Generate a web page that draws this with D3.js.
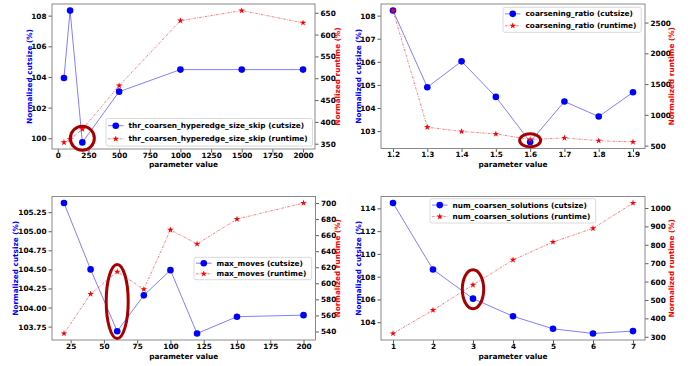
<!DOCTYPE html>
<html><head><meta charset="utf-8">
<script src="https://cdn.jsdelivr.net/npm/d3@7"></script>
<style>
body{margin:0;background:#fff}
text{font-family:"DejaVu Sans",sans-serif;font-weight:bold}
</style>
</head><body>
<svg id="c" width="699" height="366"></svg>
<script>
// ---- data ----
const p1Names=["thr_coarsen_hyperedge_size_skip (cutsize)","thr_coarsen_hyperedge_size_skip (runtime)"];
const p1Params=[50,100,200,500,1000,1500,2000];
const p1Cut=[103.93,108.33,99.73,103.04,104.48,104.48,104.48];
const p1Run=[353,360,383,483,632,655,627];
const p1XTicks=[0,250,500,750,1000,1250,1500,1750,2000];
const p1LTicks=[100,102,104,106,108];
const p1RTicks=[350,400,450,500,550,600,650];

const p2Names=["coarsening_ratio (cutsize)","coarsening_ratio (runtime)"];
const p2Params=[1.2,1.3,1.4,1.5,1.6,1.7,1.8,1.9];
const p2Cut=[108.22,104.9,106.02,104.48,102.53,104.28,103.63,104.68];
const p2Run=[2695,800,730,690,600,625,580,560];
const p2XTicks=[1.2,1.3,1.4,1.5,1.6,1.7,1.8,1.9];
const p2LTicks=[103,104,105,106,107,108];
const p2RTicks=[500,1000,1500,2000,2500];

const p3Names=["max_moves (cutsize)","max_moves (runtime)"];
const p3Params=[20,40,60,80,100,120,150,200];
const p3Cut=[105.37,104.50,103.69,104.16,104.49,103.66,103.88,103.90];
const p3Run=[537.5,586.7,614.4,592.5,666.5,649,680,700];
const p3XTicks=[25,50,75,100,125,150,175,200];
const p3LTicks=[103.75,104.00,104.25,104.50,104.75,105.00,105.25];
const p3RTicks=[540,560,580,600,620,640,660,680,700];

const p4Names=["num_coarsen_solutions (cutsize)","num_coarsen_solutions (runtime)"];
const p4Params=[1,2,3,4,5,6,7];
const p4Cut=[114.47,108.63,106.07,104.52,103.42,103.01,103.22];
const p4Run=[318,445,582,718,815,889,1027];
const p4XTicks=[1,2,3,4,5,6,7];
const p4LTicks=[104,106,108,110,112,114];
const p4RTicks=[300,400,500,600,700,800,900,1000];

// highlighted settings (x value, cutsize value of ellipse centre)
const hlX=[200,1.6,60,3];
const hlY=[100.0,102.6,104.08,106.9];

// ---- layout ----
const FS=7.3, LFS=7.35;
const svg=d3.select("#c");
const panels=[
 {names:p1Names,xs:p1Params,cut:p1Cut,run:p1Run,xt:p1XTicks,lt:p1LTicks,rt:p1RTicks,fmtX:d3.format("d"),fmtL:d3.format("d"),
  box:[52,4,315,149],llx:29,rlx:337,xly:164.5,leg:[106,118.5,312.5,146],hl:0,ell:[12,12]},
 {names:p2Names,xs:p2Params,cut:p2Cut,run:p2Run,xt:p2XTicks,lt:p2LTicks,rt:p2RTicks,fmtX:d3.format(".1f"),fmtL:d3.format("d"),
  box:[381,4,645,148.5],llx:358.5,rlx:671.5,xly:164.5,leg:[503,7.3,641.3,32.3],hl:1,ell:[10.5,6.5]},
 {names:p3Names,xs:p3Params,cut:p3Cut,run:p3Run,xt:p3XTicks,lt:p3LTicks,rt:p3RTicks,fmtX:d3.format("d"),fmtL:d3.format(".2f"),
  box:[52,196.5,315.5,340],llx:15.5,rlx:337.5,xly:356,leg:[194,257.3,311.7,279.7],hl:2,ell:[11,37]},
 {names:p4Names,xs:p4Params,cut:p4Cut,run:p4Run,xt:p4XTicks,lt:p4LTicks,rt:p4RTicks,fmtX:d3.format("d"),fmtL:d3.format("d"),
  box:[381,196.5,645,340],llx:358.5,rlx:671.5,xly:356,leg:[430,198.7,595.7,223],hl:3,ell:[10.7,19.5]}
];

function padDomain(a){const mn=d3.min(a),mx=d3.max(a),m=(mx-mn)*0.05;return [mn-m,mx+m];}
const star=d3.symbol().type(d3.symbolStar).size(13);

panels.forEach(p=>{
  const [x0,y0,x1,y1]=p.box;
  const x=d3.scaleLinear().domain(padDomain(p.xs)).range([x0,x1]);
  const yl=d3.scaleLinear().domain(padDomain(p.cut)).range([y1,y0]);
  const yr=d3.scaleLinear().domain(padDomain(p.run)).range([y1,y0]);
  const g=svg.append("g");

  // axes
  const ax=g.append("g").attr("transform",`translate(0,${y1})`)
    .call(d3.axisBottom(x).tickValues(p.xt).tickFormat(p.fmtX).tickSize(3.5).tickSizeOuter(0));
  const al=g.append("g").attr("transform",`translate(${x0},0)`)
    .call(d3.axisLeft(yl).tickValues(p.lt).tickFormat(p.fmtL).tickSize(3.5).tickSizeOuter(0));
  const ar=g.append("g").attr("transform",`translate(${x1},0)`)
    .call(d3.axisRight(yr).tickValues(p.rt).tickFormat(d3.format("d")).tickSize(3.5).tickSizeOuter(0));
  [ax,al,ar].forEach(a=>{
    a.select(".domain").remove();
    a.selectAll("line").attr("stroke","#333").attr("stroke-width",0.8);
    a.selectAll("text").attr("font-size",FS).attr("fill","#000").style("font-family","DejaVu Sans").style("font-weight","bold")
      .attr("dy",null).attr("dominant-baseline","central");
  });
  ax.selectAll("text").attr("y",6);
  al.selectAll("text").attr("x",-5.5);
  ar.selectAll("text").attr("x",5.5);
  g.append("rect").attr("x",x0).attr("y",y0).attr("width",x1-x0).attr("height",y1-y0)
    .attr("fill","none").attr("stroke","#8a8a8a").attr("stroke-width",1);

  // labels
  g.append("text").attr("x",(x0+x1)/2).attr("y",p.xly).attr("text-anchor","middle").attr("dominant-baseline","central")
    .attr("font-size",FS+0.1).attr("fill","#000").text("parameter value");
  g.append("text").attr("transform",`translate(${p.llx},${(y0+y1)/2}) rotate(-90)`).attr("text-anchor","middle")
    .attr("dominant-baseline","central").attr("font-size",FS).attr("fill","#0000ff").text("Normalized cutsize (%)");
  g.append("text").attr("transform",`translate(${p.rlx},${(y0+y1)/2}) rotate(-90)`).attr("text-anchor","middle")
    .attr("dominant-baseline","central").attr("font-size",FS).attr("fill","#ff0000").text("Normalized runtime (%)");

  // lines
  const idx=d3.range(p.xs.length);
  g.append("path").attr("d",d3.line().x(i=>x(p.xs[i])).y(i=>yl(p.cut[i]))(idx))
    .attr("fill","none").attr("stroke","#0000ff").attr("stroke-opacity",0.5).attr("stroke-width",1);
  g.selectAll(".cm").data(idx).join("circle").attr("cx",i=>x(p.xs[i])).attr("cy",i=>yl(p.cut[i]))
    .attr("r",3.3).attr("fill","#0000ff");
  g.append("path").attr("d",d3.line().x(i=>x(p.xs[i])).y(i=>yr(p.run[i]))(idx))
    .attr("fill","none").attr("stroke","#ff0000").attr("stroke-opacity",0.5).attr("stroke-width",1)
    .attr("stroke-dasharray","2.5,1.2,0.8,1.2");
  g.selectAll(".rm").data(idx).join("path").attr("d",star)
    .attr("transform",i=>`translate(${x(p.xs[i])},${yr(p.run[i])})`).attr("fill","#ff0000");

  // legend
  const [lx0,ly0,lx1,ly1]=p.leg;
  g.append("rect").attr("x",lx0).attr("y",ly0).attr("width",lx1-lx0).attr("height",ly1-ly0).attr("rx",2)
    .attr("fill","#fff").attr("fill-opacity",0.8).attr("stroke","#d0d0d0").attr("stroke-width",0.8);
  const rowH=(ly1-ly0)/2;
  p.names.forEach((nm,k)=>{
    const cy=ly0+rowH*(k+0.5)+(k===0?0.3:-0.3);
    const sx0=lx0+2,sx1=lx0+17.5,sm=(sx0+sx1)/2;
    const ln=g.append("line").attr("x1",sx0).attr("x2",sx1).attr("y1",cy).attr("y2",cy)
      .attr("stroke",k===0?"#0000ff":"#ff0000").attr("stroke-opacity",0.5).attr("stroke-width",1);
    if(k===1) ln.attr("stroke-dasharray","2.5,1.2,0.8,1.2");
    if(k===0) g.append("circle").attr("cx",sm).attr("cy",cy).attr("r",3.3).attr("fill","#0000ff");
    else g.append("path").attr("d",star).attr("transform",`translate(${sm},${cy})`).attr("fill","#ff0000");
    g.append("text").attr("x",lx0+22.5).attr("y",cy).attr("dominant-baseline","central")
      .attr("font-size",LFS).attr("fill","#000").text(nm);
  });

  // highlight ellipse
  g.append("ellipse").attr("cx",x(hlX[p.hl])).attr("cy",yl(hlY[p.hl])).attr("rx",p.ell[0]).attr("ry",p.ell[1])
    .attr("fill","none").attr("stroke","#a80000").attr("stroke-width",3);
});
</script>
</body></html>
